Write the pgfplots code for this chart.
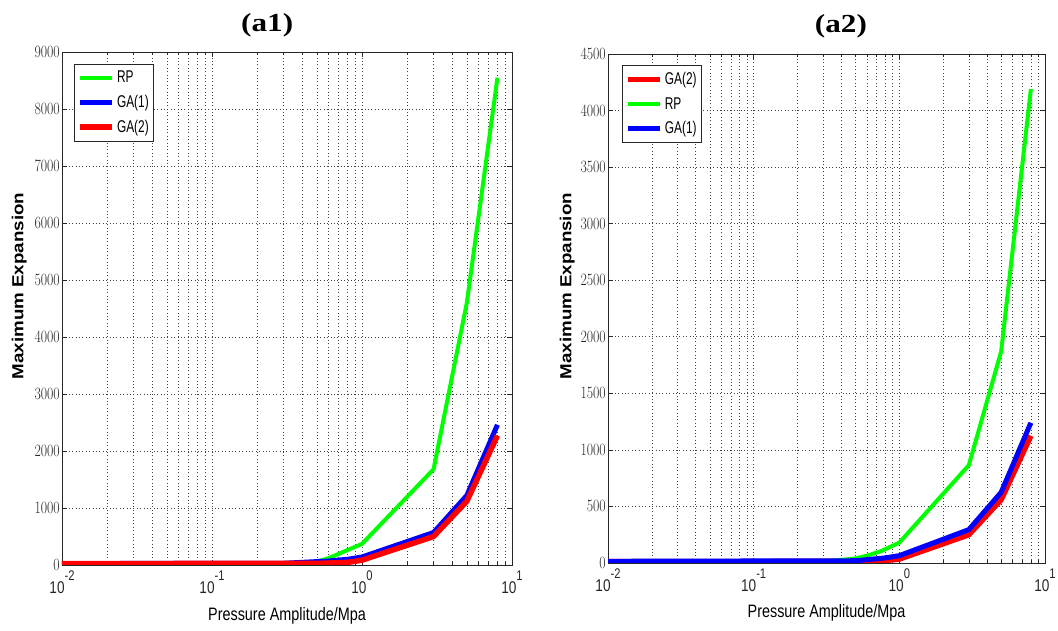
\documentclass[border=0pt]{standalone}
\usepackage{pgfplots}
\pgfplotsset{compat=1.18}
\usepackage{fontspec}
\setmainfont{Liberation Sans}
\newfontfamily\titlefont{Liberation Serif}
\usepackage{graphicx}
\definecolor{mgreen}{RGB}{0,255,0}
\definecolor{mblue}{RGB}{0,0,255}
\definecolor{mred}{RGB}{255,0,0}
\newcommand{\tk}[1]{\scalebox{0.8}[1]{#1}}
\newcommand{\lgd}[1]{\scalebox{0.7}[1]{#1}}
\newcommand{\xt}[1]{\scalebox{0.8}[1]{10\raisebox{0.72em}{\fontsize{14bp}{14bp}\selectfont #1}}}
\newcommand{\tfont}{\fontsize{17bp}{18bp}\selectfont}
\newcommand{\lfont}{\fontsize{17bp}{19bp}\selectfont}
\pgfplotsset{
  legend image code/.code={\draw[#1] (0bp,0bp) -- (32bp,0bp);},
  every axis plot/.append style={line join=round},
  every axis title shift=0pt,
}
\begin{document}
\begin{tikzpicture}
\useasboundingbox (0,0) rectangle (1058bp,631bp);
\begin{axis}[
  scale only axis,
  xmode=log, xmin=0.01, xmax=10, ymin=0,
  xtick={0.01,0.1,1,10},
  xticklabels={\xt{-2},\xt{-1},\xt{0},\xt{1}},
  axis line style={black!85, line width=0.8bp},
  xmajorgrids=true, xminorgrids=true, ymajorgrids=true,
  major grid style={dash pattern=on 0.8bp off 2.6bp, black!75, line width=0.6bp},
  minor grid style={dash pattern=on 0.8bp off 2.6bp, black!75, line width=0.6bp},
  tick align=inside, major tick length=5bp, minor tick length=3bp,
  every tick/.style={black!85, line width=0.6bp},
  tick label style={font=\tfont, black!85},
  yticklabel style={inner sep=2bp},
  xticklabel style={inner sep=0bp, yshift=-6bp},
  yticklabel={\tk{\pgfmathprintnumber[1000 sep={}]{\tick}}},
  xlabel={\scalebox{0.8}[1]{Pressure Amplitude/Mpa}},
  xlabel style={font=\fontsize{18bp}{20bp}\selectfont, at={(axis description cs:0.5,-0.082)}, anchor=north, inner sep=0pt},
  ylabel={\scalebox{1.17}[1]{Maximum Expansion}},
  ylabel style={font=\fontsize{16bp}{18bp}\selectfont\bfseries, at={(axis description cs:-0.078,0.544)}, anchor=south, inner sep=0pt},
  title={\scalebox{1.2}[1]{(a1)}},
  title style={font=\titlefont\bfseries\fontsize{26bp}{28bp}\selectfont, anchor=base, inner sep=0pt, at={(axis description cs:0.456,1)}, yshift=21bp},
  legend cell align=left,
  legend style={font=\lfont, draw=black!85, line width=0.8bp, anchor=north west, row sep=7bp, inner xsep=3bp, inner ysep=5bp, nodes={inner xsep=2bp}, at={(axis description cs:0.027,0.977)}},
  at={(62bp,66bp)}, anchor=south west,
  width=450bp, height=513bp,
  ymax=9000, ytick={0,1000,...,9000},
]
\addplot[mgreen, line width=4bp] coordinates {
 (0.18,20) (0.4,35) (0.5,60) (0.6,120) (0.75,230) (1,370) (3,1680) (5,4600) (8,8550)};
\addlegendentry{\lgd{RP}}
\addplot[mblue, line width=5bp] coordinates {
 (0.01,25) (0.3,30) (0.6,70) (0.8,100) (1,140) (3,570) (5,1220) (8,2460)};
\addlegendentry{\lgd{GA(1)}}
\addplot[mred, line width=5.5bp] coordinates {
 (0.01,25) (0.5,28) (0.8,45) (1,85) (3,500) (5,1120) (8,2270)};
\addlegendentry{\lgd{GA(2)}}
\end{axis}
\begin{axis}[
  scale only axis,
  xmode=log, xmin=0.01, xmax=10, ymin=0,
  xtick={0.01,0.1,1,10},
  xticklabels={\xt{-2},\xt{-1},\xt{0},\xt{1}},
  axis line style={black!85, line width=0.8bp},
  xmajorgrids=true, xminorgrids=true, ymajorgrids=true,
  major grid style={dash pattern=on 0.8bp off 2.6bp, black!75, line width=0.6bp},
  minor grid style={dash pattern=on 0.8bp off 2.6bp, black!75, line width=0.6bp},
  tick align=inside, major tick length=5bp, minor tick length=3bp,
  every tick/.style={black!85, line width=0.6bp},
  tick label style={font=\tfont, black!85},
  yticklabel style={inner sep=2bp},
  xticklabel style={inner sep=0bp, yshift=-6bp},
  yticklabel={\tk{\pgfmathprintnumber[1000 sep={}]{\tick}}},
  xlabel={\scalebox{0.8}[1]{Pressure Amplitude/Mpa}},
  xlabel style={font=\fontsize{18bp}{20bp}\selectfont, at={(axis description cs:0.5,-0.082)}, anchor=north, inner sep=0pt},
  ylabel={\scalebox{1.17}[1]{Maximum Expansion}},
  ylabel style={font=\fontsize{16bp}{18bp}\selectfont\bfseries, at={(axis description cs:-0.0755,0.544)}, anchor=south, inner sep=0pt},
  title={\scalebox{1.2}[1]{(a2)}},
  title style={font=\titlefont\bfseries\fontsize{26bp}{28bp}\selectfont, anchor=base, inner sep=0pt, at={(axis description cs:0.533,1)}, yshift=21bp},
  legend cell align=left,
  legend style={font=\lfont, draw=black!85, line width=0.8bp, anchor=north west, row sep=7bp, inner xsep=3bp, inner ysep=5bp, nodes={inner xsep=2bp}, at={(axis description cs:0.032,0.978)}},
  at={(608bp,68bp)}, anchor=south west,
  width=437bp, height=509bp,
  ymax=4500, ytick={0,500,...,4500},
]
\addplot[mred, line width=5.5bp] coordinates {
 (0.01,12) (0.6,14) (0.8,22) (1,35) (3,250) (5,560) (8,1125)};
\addlegendentry{\lgd{GA(2)}}
\addplot[mgreen, line width=4bp] coordinates {
 (0.18,12) (0.35,20) (0.5,40) (0.6,65) (0.75,105) (1,180) (3,865) (5,1870) (8,4190)};
\addlegendentry{\lgd{RP}}
\addplot[mblue, line width=5bp] coordinates {
 (0.01,15) (0.5,20) (0.8,45) (1,65) (3,295) (5,625) (8,1240)};
\addlegendentry{\lgd{GA(1)}}
\end{axis}
\end{tikzpicture}
\end{document}
